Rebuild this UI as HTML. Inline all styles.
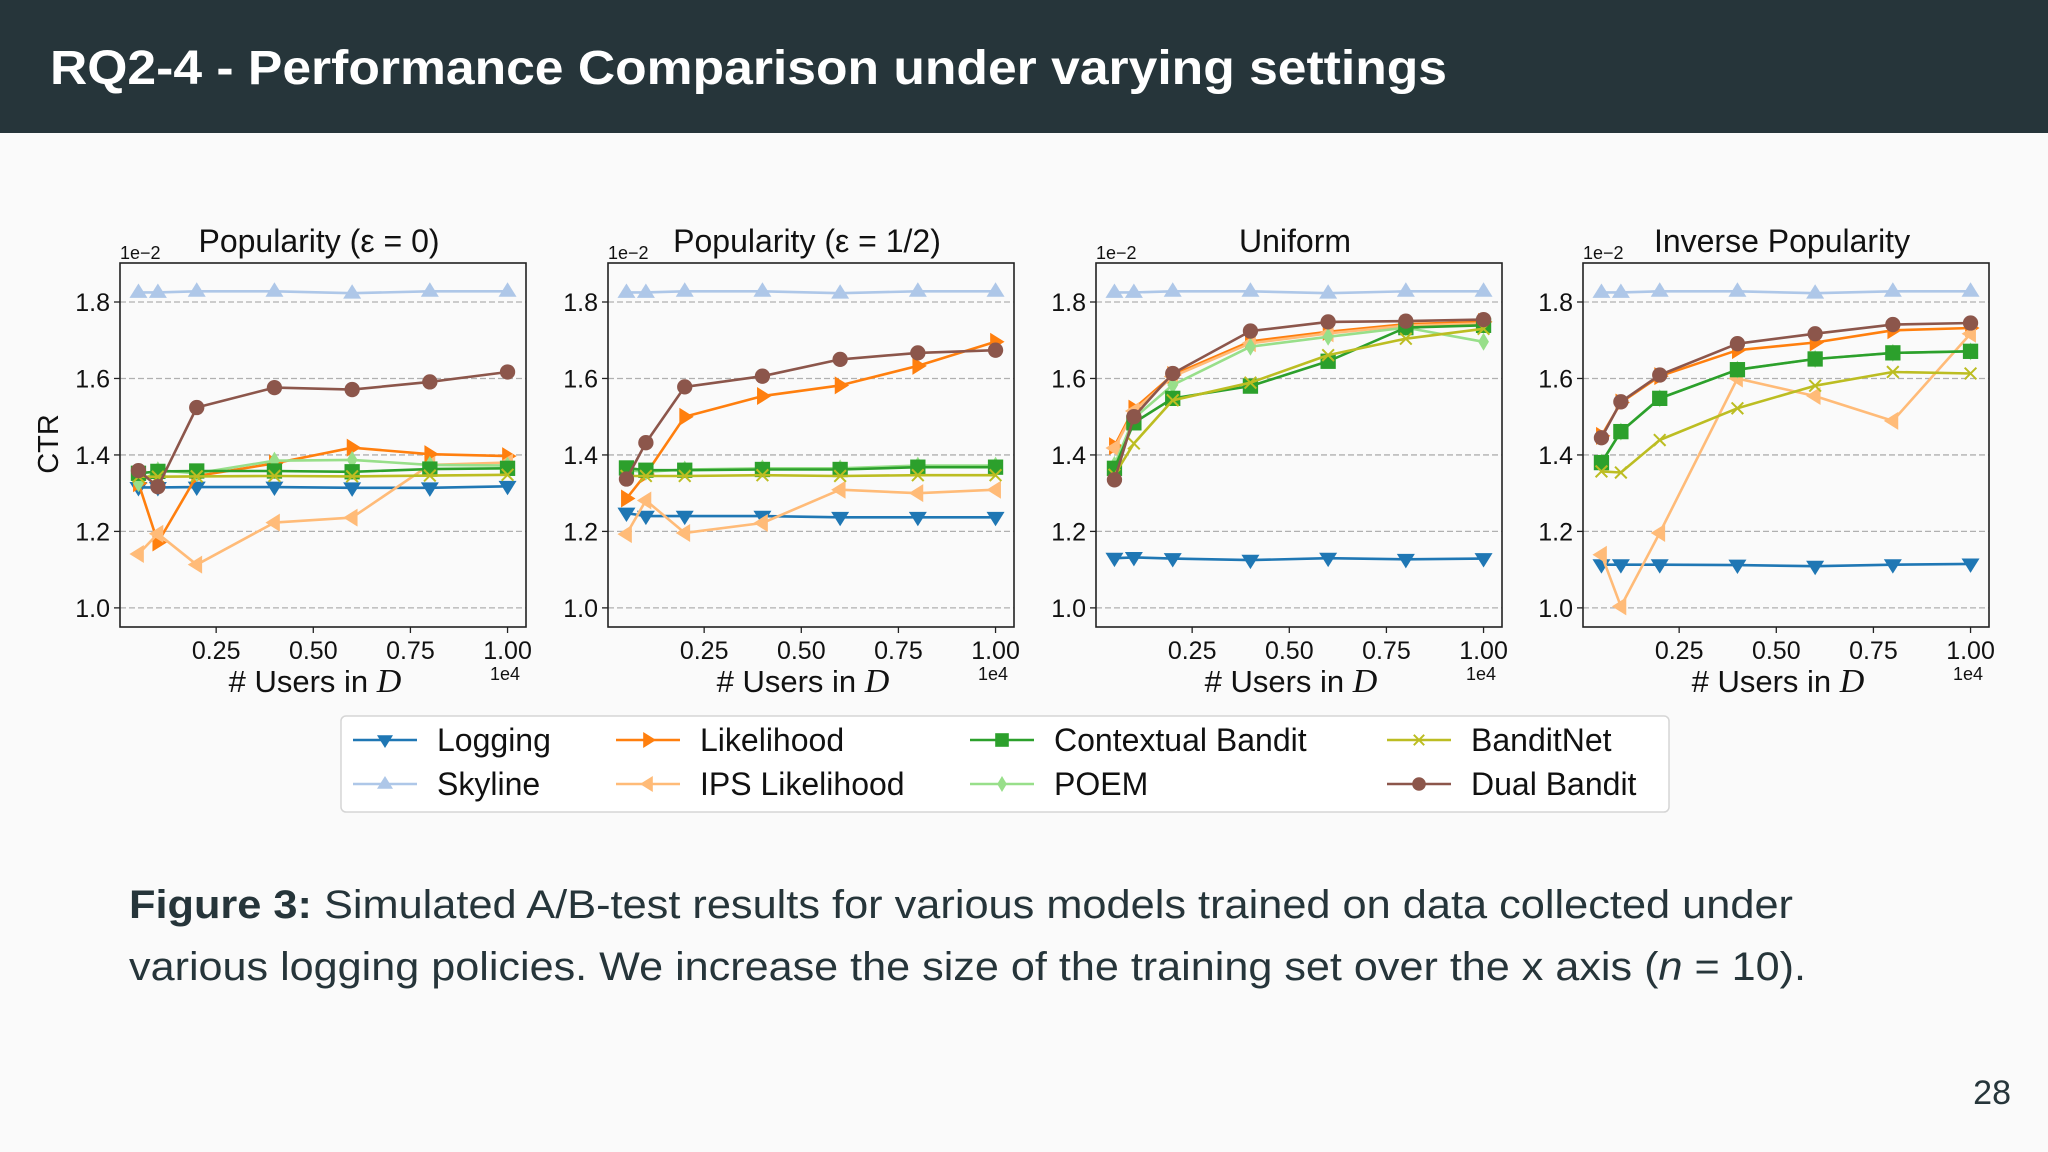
<!DOCTYPE html>
<html><head><meta charset="utf-8"><style>
html,body{margin:0;padding:0;background:#fafafa;}
svg{display:block;font-family:"Liberation Sans","DejaVu Sans",sans-serif;}
</style></head><body>
<svg id="page" width="2048" height="1152" viewBox="0 0 2048 1152" xmlns="http://www.w3.org/2000/svg">
<rect x="0" y="0" width="2048" height="1152" fill="#fafafa"/>
<rect x="0" y="0" width="2048" height="133" fill="#26353a"/>
<text x="50" y="84" fill="#ffffff" font-size="48" font-weight="bold" textLength="1397" lengthAdjust="spacingAndGlyphs">RQ2-4 - Performance Comparison under varying settings</text>
<g id="charts"></g>
<g id="legend"></g>
<text x="129" y="918" fill="#26353a" font-size="40" textLength="1664" lengthAdjust="spacingAndGlyphs"><tspan font-weight="bold">Figure 3:</tspan> Simulated A/B-test results for various models trained on data collected under</text>
<text x="129" y="980" fill="#26353a" font-size="40" textLength="1677" lengthAdjust="spacingAndGlyphs">various logging policies. We increase the size of the training set over the x axis (<tspan font-style="italic">n</tspan> = 10).</text>
<text x="2011" y="1104" fill="#26353a" font-size="34" text-anchor="end">28</text>
</svg>
<script>
const xValues = [0.05, 0.1, 0.2, 0.4, 0.6, 0.8, 1.0];
const xTicks = [0.25, 0.50, 0.75, 1.00];
const xTickLabels = ["0.25", "0.50", "0.75", "1.00"];
const yTicks = [1.0, 1.2, 1.4, 1.6, 1.8];
const yTickLabels = ["1.0", "1.2", "1.4", "1.6", "1.8"];
const panelTitles = ["Popularity (\u03b5 = 0)", "Popularity (\u03b5 = 1/2)", "Uniform", "Inverse Popularity"];
const seriesNames = ["Logging","Skyline","Likelihood","IPS Likelihood","Contextual Bandit","POEM","BanditNet","Dual Bandit"];
const seriesColors = ["#1f77b4","#aec7e8","#ff7f0e","#ffbb78","#2ca02c","#98df8a","#bcbd22","#8c564b"];
const seriesMarkers = ["v","^",">","<","s","d","x","o"];

const loggingData = [
  [1.315,1.315,1.316,1.316,1.314,1.314,1.318],
  [1.248,1.240,1.240,1.240,1.237,1.237,1.237],
  [1.130,1.132,1.129,1.125,1.130,1.127,1.129],
  [1.113,1.113,1.113,1.112,1.109,1.113,1.115]];
const skylineData = [
  [1.825,1.825,1.828,1.828,1.823,1.828,1.828],
  [1.825,1.825,1.828,1.828,1.823,1.828,1.828],
  [1.825,1.825,1.828,1.828,1.823,1.828,1.828],
  [1.825,1.825,1.828,1.828,1.823,1.828,1.828]];
const likelihoodData = [
  [1.326,1.171,1.345,1.378,1.419,1.402,1.397],
  [1.286,1.350,1.500,1.554,1.582,1.633,1.696],
  [1.423,1.521,1.609,1.697,1.722,1.742,1.748],
  [1.450,1.537,1.606,1.674,1.694,1.726,1.732]];
const ipsData = [
  [1.141,1.194,1.113,1.223,1.236,1.374,1.380],
  [1.193,1.281,1.196,1.222,1.309,1.300,1.309],
  [1.418,1.515,1.605,1.692,1.718,1.738,1.744],
  [1.139,1.004,1.196,1.600,1.554,1.489,1.717]];
const contextualData = [
  [1.352,1.357,1.358,1.358,1.356,1.363,1.365],
  [1.366,1.360,1.360,1.362,1.362,1.368,1.368],
  [1.365,1.484,1.548,1.580,1.645,1.733,1.739],
  [1.380,1.461,1.548,1.623,1.651,1.667,1.671]];
const poemData = [
  [1.326,1.360,1.352,1.385,1.387,1.374,1.372],
  [1.360,1.356,1.362,1.365,1.365,1.372,1.372],
  [1.374,1.496,1.583,1.683,1.709,1.733,1.696],
  [1.380,1.461,1.548,1.623,1.651,1.667,1.671]];
const banditNetData = [
  [1.343,1.343,1.344,1.345,1.344,1.346,1.348],
  [1.345,1.345,1.345,1.347,1.345,1.347,1.347],
  [1.348,1.430,1.543,1.589,1.661,1.704,1.730],
  [1.357,1.354,1.439,1.522,1.581,1.617,1.613]];
const dualData = [
  [1.359,1.317,1.524,1.576,1.571,1.591,1.617],
  [1.337,1.432,1.578,1.606,1.650,1.667,1.674],
  [1.335,1.500,1.613,1.724,1.748,1.750,1.754],
  [1.445,1.539,1.609,1.691,1.717,1.741,1.745]];
const allSeries = [loggingData, skylineData, likelihoodData, ipsData, contextualData, poemData, banditNetData, dualData];
const drawOrder = [0,1,2,3,5,4,6,7];

const NS = "http://www.w3.org/2000/svg";
function mk(tag, attrs, parent){
  const e = document.createElementNS(NS, tag);
  for (const k in attrs) e.setAttribute(k, attrs[k]);
  if (parent) parent.appendChild(e);
  return e;
}
const panelLefts = [120, 608, 1096, 1583];
const axW = 406, axTop = 263, axBot = 627;
const xMin = 0.0025, xMax = 1.0475, yMin = 0.950, yMax = 1.902;

function markerPath(m, cx, cy, r){
  if (m === "v") return `M${cx-r},${cy-r*0.6}L${cx+r},${cy-r*0.6}L${cx},${cy+r}Z`;
  if (m === "^") return `M${cx-r},${cy+r*0.6}L${cx+r},${cy+r*0.6}L${cx},${cy-r}Z`;
  if (m === ">") return `M${cx-r*0.6},${cy-r}L${cx-r*0.6},${cy+r}L${cx+r},${cy}Z`;
  if (m === "<") return `M${cx+r*0.6},${cy-r}L${cx+r*0.6},${cy+r}L${cx-r},${cy}Z`;
  if (m === "s") { const s=r*0.85; return `M${cx-s},${cy-s}H${cx+s}V${cy+s}H${cx-s}Z`; }
  if (m === "d") return `M${cx},${cy-r}L${cx+r*0.6},${cy}L${cx},${cy+r}L${cx-r*0.6},${cy}Z`;
  return "";
}
function drawMarker(g, m, cx, cy, r, color){
  if (m === "o") {
    const c = mk("circle", {cx:cx, cy:cy, r:r*0.85, fill:color}, g);
    
    
  } else if (m === "x") {
    const s = r*0.65;
    const p = mk("path", {d:`M${cx-s},${cy-s}L${cx+s},${cy+s}M${cx-s},${cy+s}L${cx+s},${cy-s}`, stroke:color, "stroke-width":2, fill:"none"}, g);
    
    
  } else {
    const p = mk("path", {d:markerPath(m,cx,cy,r), fill:color}, g);
    
    
  }
}

const charts = document.getElementById("charts");
panelLefts.forEach((L, pi) => {
  const g = mk("g", {}, charts);
  
  
  const sx = v => L + (v - xMin) / (xMax - xMin) * axW;
  const sy = v => axBot - (v - yMin) / (yMax - yMin) * (axBot - axTop);
  yTicks.forEach((t, i) => {
    const gl = mk("line", {x1:L, x2:L+axW, y1:sy(t), y2:sy(t), stroke:"#b0b0b0", "stroke-width":1.3, "stroke-dasharray":"6,3"}, g);
    
    
    const tk = mk("line", {x1:L-6, x2:L, y1:sy(t), y2:sy(t), stroke:"#222", "stroke-width":1.3}, g);
    
    
    const tl = mk("text", {x:L-10, y:sy(t)+9, "font-size":25, "text-anchor":"end", fill:"#111"}, g);
    tl.textContent = yTickLabels[i];
    
    
  });
  xTicks.forEach((t, i) => {
    const tk = mk("line", {x1:sx(t), x2:sx(t), y1:axBot, y2:axBot+6, stroke:"#222", "stroke-width":1.3}, g);
    
    
    const tl = mk("text", {x:sx(t), y:axBot+32, "font-size":25, "text-anchor":"middle", fill:"#111"}, g);
    tl.textContent = xTickLabels[i];
    
    
  });
  drawOrder.forEach(si => {
    const data = allSeries[si];
    const sg = mk("g", {}, g);
    
    
    const vals = data[pi];
    const pts = vals.map((v, k) => sx(xValues[k]).toFixed(1) + "," + sy(v).toFixed(1)).join(" ");
    const pl = mk("polyline", {points:pts, fill:"none", stroke:seriesColors[si], "stroke-width":2.6, "stroke-linejoin":"round"}, sg);
    
    
    vals.forEach((v, k) => drawMarker(sg, seriesMarkers[si], sx(xValues[k]), sy(v), 9, seriesColors[si]));
  });
  const frame = mk("rect", {x:L, y:axTop, width:axW, height:axBot-axTop, fill:"none", stroke:"#222", "stroke-width":1.6}, g);
  
  
  const tt = mk("text", {x:L+axW/2 - 4, y:252, "font-size":32, "text-anchor":"middle", fill:"#111"}, g);
  tt.textContent = panelTitles[pi];
  
  
  const off = mk("text", {x:L, y:259, "font-size":18, fill:"#111"}, g);
  off.textContent = "1e\u22122";
  
  
  const off2 = mk("text", {x:L+axW-6, y:680, "font-size":18, "text-anchor":"end", fill:"#111"}, g);
  off2.textContent = "1e4";
  
  
  const xl = mk("text", {x:L+axW/2 - 8, y:692, "font-size":31, "text-anchor":"middle", fill:"#111"}, g);
  xl.innerHTML = '# Users in <tspan font-style="italic" font-family="Liberation Serif" font-size="34">D</tspan>';
  
  
});
const yl = mk("text", {x:0, y:0, "font-size":29, "text-anchor":"middle", fill:"#111", transform:"translate(58,444) rotate(-90)"}, charts);
yl.textContent = "CTR";



const lg = document.getElementById("legend");
const box = mk("rect", {x:341, y:716, width:1328, height:96, rx:5, fill:"#ffffff", stroke:"#d5d5d5", "stroke-width":1.5}, lg);


const colX = [353, 616, 970, 1387];
const rowY = [740, 784];
const legendOrder = [[0,1],[2,3],[4,5],[6,7]];
legendOrder.forEach((pair, c) => pair.forEach((si, r) => {
  const eg = mk("g", {}, lg);
  
  
  const y = rowY[r];
  mk("line", {x1:colX[c], x2:colX[c]+64, y1:y, y2:y, stroke:seriesColors[si], "stroke-width":2.6}, eg);
  drawMarker(eg, seriesMarkers[si], colX[c]+32, y, 8, seriesColors[si]);
  const t = mk("text", {x:colX[c]+84, y:y+11, "font-size":32, fill:"#111"}, eg);
  t.textContent = seriesNames[si];
}));
</script>
</body></html>
